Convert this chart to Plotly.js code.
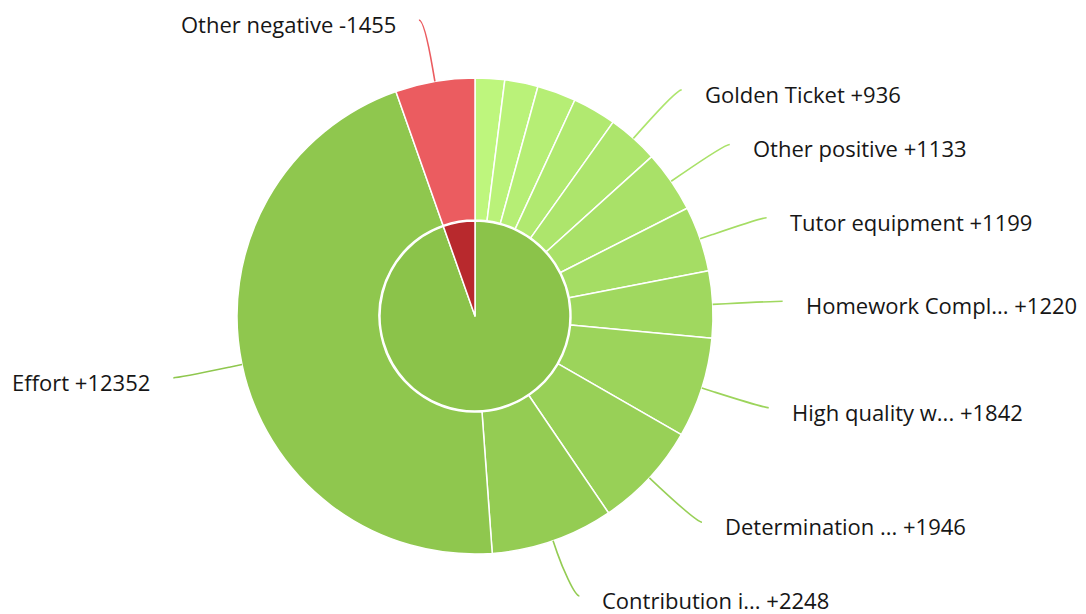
<!DOCTYPE html>
<html>
<head>
<meta charset="utf-8">
<script src="https://cdn.plot.ly/plotly-3.0.1.min.js"></script>
<style>
html,body{margin:0;padding:0;background:#ffffff;}
#chart{width:1086px;height:614px;}
</style>
</head>
<body>
<div id="chart"></div>
<script>
// ---- Data ----
const categories = ["Category A", "Category B", "Category C", "Category D",
  "Golden Ticket", "Other positive", "Tutor equipment", "Homework Compl...",
  "High quality w...", "Determination ...", "Contribution i...", "Effort",
  "Other negative"];
const values = [540, 610, 710, 800, 936, 1133, 1199, 1220, 1842, 1946, 2248, 12352, -1455];
const groupNames = ["Positive", "Negative"];

// ---- Options ----
const W = 1086, H = 614;
const cx = 475, cy = 316;
const rOuter = 238, rInner = 95;
const labelR = 303;          // radius where connectors end
const xPad = 5;              // horizontal padding added to connector end
const breakOffset = 13;      // connector break distance from slice edge
const textGap = 21;          // gap between connector end and text
const yMin = 20, yMax = 596; // label vertical limits
const minSpacing = 30;
const labelMinValue = 900;   // data label filter
const posBase = [139, 195, 74];
const negBase = [184, 41, 45];
const fontSpec = {family: "'Open Sans', 'Noto Sans', sans-serif", size: 22, color: "#161616", weight: 500};

function brighten(c, a) {
  const v = c.map(x => Math.max(0, Math.min(255, Math.round(x + 255 * a))));
  return "rgb(" + v.join(",") + ")";
}
const rgb = c => "rgb(" + c.join(",") + ")";

// ---- Derived ----
const absVals = values.map(Math.abs);
const total = absVals.reduce((a, b) => a + b, 0);
const posIdx = values.map((v, i) => v >= 0 ? i : -1).filter(i => i >= 0);
const negIdx = values.map((v, i) => v < 0 ? i : -1).filter(i => i >= 0);
const posSum = posIdx.reduce((s, i) => s + absVals[i], 0);
const negSum = negIdx.reduce((s, i) => s + absVals[i], 0);

const outerColors = values.map((v, i) => {
  if (v >= 0) {
    const j = posIdx.indexOf(i);
    return brighten(posBase, 0.2 - j / posIdx.length / 5);
  } else {
    const j = negIdx.indexOf(i);
    return brighten(negBase, 0.2 - j / negIdx.length / 5);
  }
});

function domainFor(r) {
  return {
    x: [(cx - r) / W, (cx + r) / W],
    y: [((H - cy) - r) / H, ((H - cy) + r) / H]
  };
}

const traces = [
  {type: "scatter", x: [], y: [], mode: "markers", hoverinfo: "skip", showlegend: false},
  {
    type: "pie",
    labels: categories,
    values: absVals,
    sort: false,
    direction: "clockwise",
    rotation: 0,
    hole: (rInner + 1) / rOuter,
    domain: domainFor(rOuter),
    textinfo: "none",
    hoverinfo: "none",
    showlegend: false,
    marker: {colors: outerColors, line: {color: "#ffffff", width: 1.5}}
  },
  {
    type: "pie",
    labels: groupNames,
    values: [posSum, negSum],
    sort: false,
    direction: "clockwise",
    rotation: 0,
    domain: domainFor(rInner),
    textinfo: "none",
    hoverinfo: "none",
    showlegend: false,
    marker: {colors: [rgb(posBase), rgb(negBase)], line: {color: "#ffffff", width: 1.5}}
  }
];

// ---- Data labels with connectors ----
let cum = 0;
const pts = [];
values.forEach((v, i) => {
  const a0 = cum / total * 360;
  cum += absVals[i];
  const a1 = cum / total * 360;
  const mid = (a0 + a1) / 2 * Math.PI / 180;
  if (absVals[i] < labelMinValue) return;
  const left = (a0 + a1) / 2 > 180;
  pts.push({i, mid, left, y: cy - labelR * Math.cos(mid)});
});

function distribute(list) {
  list.sort((a, b) => a.y - b.y);
  list.forEach(p => { p.y = Math.max(yMin, Math.min(yMax, p.y)); });
  for (let k = 1; k < list.length; k++)
    if (list[k].y - list[k - 1].y < minSpacing) list[k].y = list[k - 1].y + minSpacing;
  for (let k = list.length - 1; k >= 0; k--) {
    if (list[k].y > yMax) list[k].y = yMax;
    if (k < list.length - 1 && list[k + 1].y - list[k].y < minSpacing) list[k].y = list[k + 1].y - minSpacing;
  }
}
distribute(pts.filter(p => !p.left));
distribute(pts.filter(p => p.left));

const shapes = [];
const annotations = [];
pts.forEach(p => {
  const s = p.left ? -1 : 1;
  const xe = cx + s * (Math.abs(labelR * Math.sin(p.mid)) + xPad);
  const ye = p.y;
  const tx = cx + rOuter * Math.sin(p.mid), ty = cy - rOuter * Math.cos(p.mid);
  const bx = cx + (rOuter + breakOffset) * Math.sin(p.mid), by = cy - (rOuter + breakOffset) * Math.cos(p.mid);
  const c1x = xe - s * 5, c1y = ye;
  const c2x = 2 * bx - tx, c2y = 2 * by - ty;
  shapes.push({
    type: "path", xref: "x", yref: "y", layer: "above",
    path: `M ${xe} ${ye} C ${c1x} ${c1y} ${c2x} ${c2y} ${bx} ${by} L ${tx} ${ty}`,
    line: {color: outerColors[p.i], width: 1.6}
  });
  const v = values[p.i];
  annotations.push({
    xref: "x", yref: "y",
    x: xe + s * textGap, y: ye + 4,
    xanchor: p.left ? "right" : "left", yanchor: "middle",
    text: categories[p.i] + " " + (v >= 0 ? "+" : "-") + Math.abs(v),
    showarrow: false,
    font: fontSpec
  });
});

const layout = {
  width: W, height: H,
  margin: {l: 0, r: 0, t: 0, b: 0, pad: 0},
  paper_bgcolor: "#ffffff", plot_bgcolor: "rgba(0,0,0,0)",
  xaxis: {range: [0, W], visible: false, fixedrange: true},
  yaxis: {range: [H, 0], visible: false, fixedrange: true},
  showlegend: false,
  hovermode: false,
  shapes, annotations
};

Plotly.newPlot("chart", traces, layout, {displayModeBar: false, staticPlot: true});
</script>
</body>
</html>
